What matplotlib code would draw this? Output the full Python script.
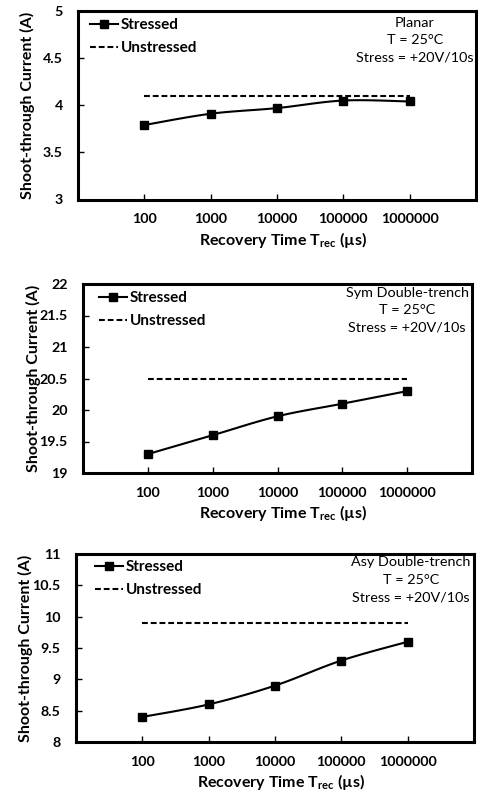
import numpy as np
import matplotlib
matplotlib.use("Agg")
import matplotlib.pyplot as plt
from matplotlib.lines import Line2D

plt.rcParams['font.family'] = ['Lato', 'DejaVu Sans']
plt.rcParams['mathtext.fontset'] = 'custom'
plt.rcParams['mathtext.rm'] = 'Lato:bold'
plt.rcParams['mathtext.bf'] = 'Lato:bold'

# Recovery times (categories) and measured shoot-through currents
trec_labels = ['100', '1000', '10000', '100000', '1000000']

planar_stressed = [3.79, 3.91, 3.97, 4.05, 4.04]
planar_unstressed = [4.1, 4.1, 4.1, 4.1, 4.1]

sym_stressed = [19.3, 19.6, 19.9, 20.1, 20.3]
sym_unstressed = [20.5, 20.5, 20.5, 20.5, 20.5]

asy_stressed = [8.4, 8.6, 8.9, 9.3, 9.6]
asy_unstressed = [9.9, 9.9, 9.9, 9.9, 9.9]

device_names = ['Planar', 'Sym Double-trench', 'Asy Double-trench']
y_limits = [(3, 5), (19, 22), (8, 11)]
y_ticks = [[3, 3.5, 4, 4.5, 5],
           [19, 19.5, 20, 20.5, 21, 21.5, 22],
           [8, 8.5, 9, 9.5, 10, 10.5, 11]]
y_ticklabels = [['3', '3.5', '4', '4.5', '5'],
                ['19', '19.5', '20', '20.5', '21', '21.5', '22'],
                ['8', '8.5', '9', '9.5', '10', '10.5', '11']]

W, H = 478, 799
# axes boxes in pixels: left, right, top, bottom
boxes = [(78, 476, 11, 199.5), (83, 472, 284, 473), (76, 474, 554, 742)]
legend_anchor = [(12, 7), (16, 7), (19, 6)]
note_center = [415, 407, 411]
note_top = [6, 3, 2]
note_spacing = [1.5, 1.5, 1.6]

DASH = (2.8, 1.4)


def smooth_curve(x, y, sx, sy, n=30):
    """Cardinal (Catmull-Rom) Bezier smoothing evaluated in screen scale."""
    px = np.asarray(x, float) * sx
    py = np.asarray(y, float) * sy
    P = np.column_stack([px, py])
    P = np.vstack([P[0], P, P[-1]])
    out = []
    t = np.linspace(0, 1, n)[:, None]
    for i in range(1, len(P) - 2):
        p0, p1, p2, p3 = P[i - 1], P[i], P[i + 1], P[i + 2]
        c1 = p1 + (p2 - p0) / 6.0
        c2 = p2 - (p3 - p1) / 6.0
        seg = ((1 - t) ** 3) * p1 + 3 * ((1 - t) ** 2) * t * c1 \
            + 3 * (1 - t) * t ** 2 * c2 + t ** 3 * p2
        out.append(seg if i == 1 else seg[1:])
    out = np.vstack(out)
    return out[:, 0] / sx, out[:, 1] / sy


fig = plt.figure(figsize=(W / 100, H / 100), dpi=100)

series = [(planar_stressed, planar_unstressed),
          (sym_stressed, sym_unstressed),
          (asy_stressed, asy_unstressed)]

for k, (stressed, unstressed) in enumerate(series):
    l, r, t, b = boxes[k]
    ax = fig.add_axes([l / W, (H - b) / H, (r - l) / W, (b - t) / H])
    xpos = np.arange(1, len(trec_labels) + 1)
    ymin, ymax = y_limits[k]
    sx = (r - l) / 6.0
    sy = (b - t) / (ymax - ymin)

    sxs, sys_ = smooth_curve(xpos, stressed, sx, sy)
    ax.plot(sxs, sys_, color='black', lw=1.5, solid_capstyle='round', zorder=3)
    ax.plot(xpos, stressed, ls='none', marker='s', ms=5.2, color='black', zorder=4)
    ax.plot(xpos, unstressed, color='black', lw=1.5, dashes=DASH, zorder=2)

    ax.set_xlim(0, 6)
    ax.set_ylim(ymin, ymax)
    ax.set_xticks(xpos)
    ax.set_xticklabels(trec_labels, fontweight='bold', fontsize=10.3)
    ax.set_yticks(y_ticks[k])
    ax.set_yticklabels(y_ticklabels[k], fontweight='bold', fontsize=10.3)
    ax.tick_params(axis='both', direction='in', length=4, width=1, color='black')
    ax.tick_params(axis='y', pad=11)
    ax.tick_params(axis='x', pad=10)
    for sp in ax.spines.values():
        sp.set_linewidth(2.2)
        sp.set_color('black')

    ax.set_ylabel('Shoot-through Current (A)', fontweight='bold', fontsize=11.5)
    ax.yaxis.set_label_coords(-0.108, 0.5)
    ax.set_xlabel(r'Recovery Time T$_{\mathbf{rec}}$ (µs)', fontweight='bold', fontsize=11.5)
    ax.xaxis.set_label_coords(0.515, -0.16)

    handles = [Line2D([], [], color='black', lw=1.5, marker='s', ms=5.2),
               Line2D([], [], color='black', lw=1.5, dashes=DASH)]
    dx, dy = legend_anchor[k]
    ax.legend(handles, ['Stressed', 'Unstressed'], loc='upper left',
              bbox_to_anchor=(dx / (r - l), 1 - dy / (b - t)),
              frameon=False, borderpad=0, borderaxespad=0,
              handlelength=1.8, handletextpad=0.2, labelspacing=0.6,
              prop={'weight': 'bold', 'size': 11})

    note = f'{device_names[k]}\nT = 25°C\nStress = +20V/10s'
    ax.text((note_center[k] - l) / (r - l), 1 - note_top[k] / (b - t), note,
            transform=ax.transAxes, ha='center', va='top', fontsize=10.4,
            linespacing=note_spacing[k])

fig.savefig('out.png', dpi=100)
